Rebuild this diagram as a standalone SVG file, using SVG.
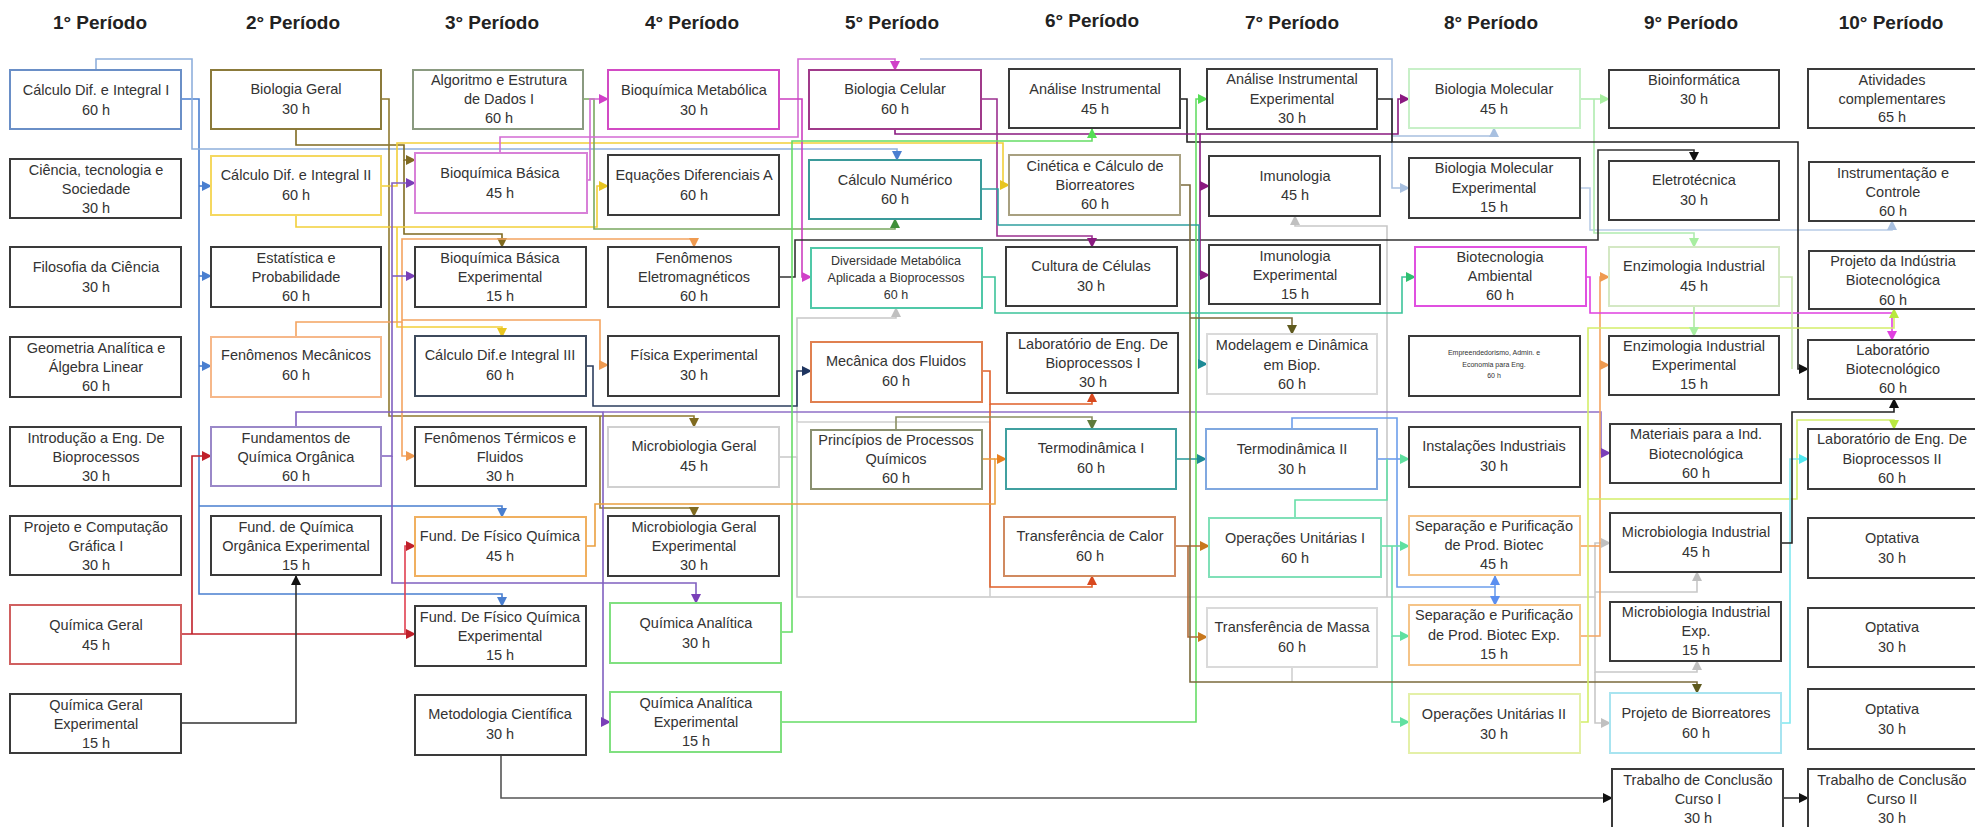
<svg xmlns="http://www.w3.org/2000/svg" width="1975" height="827" viewBox="0 0 1975 827">
<style>
.bg{fill:#fff}
.n rect{fill:#fff;stroke:#3a3a3a;stroke-width:2}
.n text{font-family:"Liberation Sans",Arial,sans-serif;font-size:14.5px;fill:#333;text-anchor:middle}
.h{font-family:"Liberation Sans",Arial,sans-serif;font-size:19px;font-weight:bold;fill:#222;text-anchor:middle}
.c path{fill:none;stroke-width:1.6}
</style>
<defs>
<marker id="a-blue" viewBox="0 0 10 10" refX="9" refY="5" markerWidth="10" markerHeight="10" markerUnits="userSpaceOnUse" orient="auto"><path d="M0,0L10,5L0,10z" fill="#4a7fd0"/></marker>
<marker id="a-olive" viewBox="0 0 10 10" refX="9" refY="5" markerWidth="10" markerHeight="10" markerUnits="userSpaceOnUse" orient="auto"><path d="M0,0L10,5L0,10z" fill="#7f6a20"/></marker>
<marker id="a-yellow" viewBox="0 0 10 10" refX="9" refY="5" markerWidth="10" markerHeight="10" markerUnits="userSpaceOnUse" orient="auto"><path d="M0,0L10,5L0,10z" fill="#e8c520"/></marker>
<marker id="a-orange" viewBox="0 0 10 10" refX="9" refY="5" markerWidth="10" markerHeight="10" markerUnits="userSpaceOnUse" orient="auto"><path d="M0,0L10,5L0,10z" fill="#ef9a50"/></marker>
<marker id="a-purple" viewBox="0 0 10 10" refX="9" refY="5" markerWidth="10" markerHeight="10" markerUnits="userSpaceOnUse" orient="auto"><path d="M0,0L10,5L0,10z" fill="#7a3fb8"/></marker>
<marker id="a-red" viewBox="0 0 10 10" refX="9" refY="5" markerWidth="10" markerHeight="10" markerUnits="userSpaceOnUse" orient="auto"><path d="M0,0L10,5L0,10z" fill="#c0202a"/></marker>
<marker id="a-black" viewBox="0 0 10 10" refX="9" refY="5" markerWidth="10" markerHeight="10" markerUnits="userSpaceOnUse" orient="auto"><path d="M0,0L10,5L0,10z" fill="#111"/></marker>
<marker id="a-green" viewBox="0 0 10 10" refX="9" refY="5" markerWidth="10" markerHeight="10" markerUnits="userSpaceOnUse" orient="auto"><path d="M0,0L10,5L0,10z" fill="#3f8f3a"/></marker>
<marker id="a-pink" viewBox="0 0 10 10" refX="9" refY="5" markerWidth="10" markerHeight="10" markerUnits="userSpaceOnUse" orient="auto"><path d="M0,0L10,5L0,10z" fill="#d040c8"/></marker>
<marker id="a-navy" viewBox="0 0 10 10" refX="9" refY="5" markerWidth="10" markerHeight="10" markerUnits="userSpaceOnUse" orient="auto"><path d="M0,0L10,5L0,10z" fill="#1f3560"/></marker>
<marker id="a-dmag" viewBox="0 0 10 10" refX="9" refY="5" markerWidth="10" markerHeight="10" markerUnits="userSpaceOnUse" orient="auto"><path d="M0,0L10,5L0,10z" fill="#8a1a80"/></marker>
<marker id="a-lgreen" viewBox="0 0 10 10" refX="9" refY="5" markerWidth="10" markerHeight="10" markerUnits="userSpaceOnUse" orient="auto"><path d="M0,0L10,5L0,10z" fill="#55dd55"/></marker>
<marker id="a-teal" viewBox="0 0 10 10" refX="9" refY="5" markerWidth="10" markerHeight="10" markerUnits="userSpaceOnUse" orient="auto"><path d="M0,0L10,5L0,10z" fill="#1e8a96"/></marker>
<marker id="a-mteal" viewBox="0 0 10 10" refX="9" refY="5" markerWidth="10" markerHeight="10" markerUnits="userSpaceOnUse" orient="auto"><path d="M0,0L10,5L0,10z" fill="#30c070"/></marker>
<marker id="a-ored" viewBox="0 0 10 10" refX="9" refY="5" markerWidth="10" markerHeight="10" markerUnits="userSpaceOnUse" orient="auto"><path d="M0,0L10,5L0,10z" fill="#d8481e"/></marker>
<marker id="a-ogold" viewBox="0 0 10 10" refX="9" refY="5" markerWidth="10" markerHeight="10" markerUnits="userSpaceOnUse" orient="auto"><path d="M0,0L10,5L0,10z" fill="#e8801e"/></marker>
<marker id="a-polive" viewBox="0 0 10 10" refX="9" refY="5" markerWidth="10" markerHeight="10" markerUnits="userSpaceOnUse" orient="auto"><path d="M0,0L10,5L0,10z" fill="#5f7a3a"/></marker>
<marker id="a-mint" viewBox="0 0 10 10" refX="9" refY="5" markerWidth="10" markerHeight="10" markerUnits="userSpaceOnUse" orient="auto"><path d="M0,0L10,5L0,10z" fill="#60e0a0"/></marker>
<marker id="a-lblue" viewBox="0 0 10 10" refX="9" refY="5" markerWidth="10" markerHeight="10" markerUnits="userSpaceOnUse" orient="auto"><path d="M0,0L10,5L0,10z" fill="#5b8ff0"/></marker>
<marker id="a-brown" viewBox="0 0 10 10" refX="9" refY="5" markerWidth="10" markerHeight="10" markerUnits="userSpaceOnUse" orient="auto"><path d="M0,0L10,5L0,10z" fill="#c8781e"/></marker>
<marker id="a-cbrown" viewBox="0 0 10 10" refX="9" refY="5" markerWidth="10" markerHeight="10" markerUnits="userSpaceOnUse" orient="auto"><path d="M0,0L10,5L0,10z" fill="#5f5a1e"/></marker>
<marker id="a-lgray" viewBox="0 0 10 10" refX="9" refY="5" markerWidth="10" markerHeight="10" markerUnits="userSpaceOnUse" orient="auto"><path d="M0,0L10,5L0,10z" fill="#c0c0c0"/></marker>
<marker id="a-lbg" viewBox="0 0 10 10" refX="9" refY="5" markerWidth="10" markerHeight="10" markerUnits="userSpaceOnUse" orient="auto"><path d="M0,0L10,5L0,10z" fill="#a8c0e0"/></marker>
<marker id="a-bmol" viewBox="0 0 10 10" refX="9" refY="5" markerWidth="10" markerHeight="10" markerUnits="userSpaceOnUse" orient="auto"><path d="M0,0L10,5L0,10z" fill="#a8eea0"/></marker>
<marker id="a-bmag" viewBox="0 0 10 10" refX="9" refY="5" markerWidth="10" markerHeight="10" markerUnits="userSpaceOnUse" orient="auto"><path d="M0,0L10,5L0,10z" fill="#e040e0"/></marker>
<marker id="a-ygreen" viewBox="0 0 10 10" refX="9" refY="5" markerWidth="10" markerHeight="10" markerUnits="userSpaceOnUse" orient="auto"><path d="M0,0L10,5L0,10z" fill="#b8e840"/></marker>
<marker id="a-cyan" viewBox="0 0 10 10" refX="9" refY="5" markerWidth="10" markerHeight="10" markerUnits="userSpaceOnUse" orient="auto"><path d="M0,0L10,5L0,10z" fill="#50e8f0"/></marker>
</defs>
<rect class="bg" x="0" y="0" width="1975" height="827"/>

<g id="headers">
<text class="h" x="100" y="29">1° Período</text>
<text class="h" x="293" y="29">2° Período</text>
<text class="h" x="492" y="29">3° Período</text>
<text class="h" x="692" y="29">4° Período</text>
<text class="h" x="892" y="29">5° Período</text>
<text class="h" x="1092" y="27">6° Período</text>
<text class="h" x="1292" y="29">7° Período</text>
<text class="h" x="1491" y="29">8° Período</text>
<text class="h" x="1691" y="29">9° Período</text>
<text class="h" x="1891" y="29">10° Período</text>
</g>

<g id="connectors" class="c">
<!-- light gray (Microbiologia Geral) -->
<path stroke="#c8c8c8" d="M779,457 H797 V597 H1595 V543 H1610" marker-end="url(#a-lgray)"/>
<path stroke="#c8c8c8" d="M1595,592 H1697 V572" marker-end="url(#a-lgray)"/>
<path stroke="#c8c8c8" d="M1595,597 V672 H1697 V661" marker-end="url(#a-lgray)"/>
<path stroke="#c8c8c8" d="M1595,672 V723 H1610" marker-end="url(#a-lgray)"/>
<path stroke="#d0d0d0" d="M797,457 V422 H990 V597"/>
<path stroke="#c8c8c8" d="M797,422 V318 H896 V308" marker-end="url(#a-lgray)"/>
<path stroke="#c8c8c8" d="M1387,597 V226 H1295 V216" marker-end="url(#a-lgray)"/>
<path stroke="#d0d0d0" d="M1292,667 V682"/>
<!-- light blue gray -->
<path stroke="#a8c0e0" d="M920,59 H1392 V188 H1409" marker-end="url(#a-lbg)"/>
<path stroke="#a8c0e0" d="M1392,136 H1494 V128" marker-end="url(#a-lbg)"/>
<path stroke="#b8cce6" d="M1580,188 H1590 V230 H1892 V221" marker-end="url(#a-lbg)"/>
<!-- Biologia Molecular -->
<path stroke="#b0ecb0" d="M1580,99 H1609" marker-end="url(#a-bmol)"/>
<path stroke="#b0ecb0" d="M1594,99 V233 H1694 V247" marker-end="url(#a-bmol)"/>
<!-- Cálculo I -->
<path stroke="#4a7fd0" d="M181,99 H199 V594 H502 V606" marker-end="url(#a-blue)"/>
<path stroke="#4a7fd0" d="M199,186 H211" marker-end="url(#a-blue)"/>
<path stroke="#4a7fd0" d="M199,276 H211" marker-end="url(#a-blue)"/>
<path stroke="#4a7fd0" d="M199,366 H211" marker-end="url(#a-blue)"/>
<path stroke="#4a7fd0" d="M199,506 H502 V517" marker-end="url(#a-blue)"/>
<path stroke="#8fb0dc" d="M96,70 V59 H192 V149 H897 V160" marker-end="url(#a-blue)"/>
<!-- Biologia Geral -->
<path stroke="#7f6a20" d="M296,129 V145 H404 V160 H415" marker-end="url(#a-olive)"/>
<path stroke="#7f6a20" d="M404,160 V234 H502 V247" marker-end="url(#a-olive)"/>
<path stroke="#8f7a30" d="M381,99 H389 V416 H694 V427" marker-end="url(#a-olive)"/>
<path stroke="#8f7a30" d="M600,416 V508 H694 V516" marker-end="url(#a-olive)"/>
<!-- Cálculo II -->
<path stroke="#f2cf3a" d="M296,215 V227 H597 V186 H608" marker-end="url(#a-yellow)"/>
<path stroke="#f2cf3a" d="M381,186 H397 V143 H1003 V185 H1009" marker-end="url(#a-yellow)"/>
<path stroke="#f2cf3a" d="M397,227 V327 H502 V337" marker-end="url(#a-yellow)"/>
<!-- Fenômenos Mecânicos -->
<path stroke="#f4a460" d="M296,337 V322 H402 V239 H694 V247" marker-end="url(#a-orange)"/>
<path stroke="#f4a460" d="M402,320 H600 V365 H608" marker-end="url(#a-orange)"/>
<path stroke="#f4a460" d="M402,322 V456 H415" marker-end="url(#a-orange)"/>
<!-- Fundamentos de Química Orgânica -->
<path stroke="#8060c0" d="M381,456 H392 V183 H415" marker-end="url(#a-purple)"/>
<path stroke="#8060c0" d="M392,276 H415" marker-end="url(#a-purple)"/>
<path stroke="#8060c0" d="M392,456 V583 H696 V603" marker-end="url(#a-purple)"/>
<path stroke="#8060c0" d="M296,427 V412 H603 V722 H610" marker-end="url(#a-purple)"/>
<path stroke="#9070c8" d="M603,412 H1601 V453 H1610" marker-end="url(#a-purple)"/>
<!-- Química Geral -->
<path stroke="#c0202a" stroke-width="2" d="M181,634 H415" marker-end="url(#a-red)"/>
<path stroke="#c0202a" d="M192,634 V456 H211" marker-end="url(#a-red)"/>
<path stroke="#e04050" d="M405,634 V546 H415" marker-end="url(#a-red)"/>
<!-- Química Geral Experimental, Metodologia, TCC -->
<path stroke="#333" d="M181,723 H296 V576" marker-end="url(#a-black)"/>
<path stroke="#555" stroke-width="2" d="M501,755 V798 H1612" marker-end="url(#a-black)"/>
<path stroke="#333" stroke-width="2" d="M1783,798 H1808" marker-end="url(#a-black)"/>
<!-- Algoritmo -->
<path stroke="#7aa860" d="M583,99 H594 V229 H895 V219" marker-end="url(#a-green)"/>
<!-- Bioquímica Básica -->
<path stroke="#d36bd3" d="M500,153 V137 H798 V59 H895 V70" marker-end="url(#a-pink)"/>
<path stroke="#d36bd3" d="M587,180 H590 V99 H608" marker-end="url(#a-pink)"/>
<!-- Bioquímica Metabólica -->
<path stroke="#cc3fc0" d="M779,99 H802 V277 H811" marker-end="url(#a-pink)"/>
<!-- Cálculo III -->
<path stroke="#2c3e5e" d="M586,366 H593 V406 H797 V371 H811" marker-end="url(#a-navy)"/>
<!-- Fenômenos Eletromagnéticos / Análise -->
<path stroke="#333" d="M779,277 H795 V240 H1598 V150 H1694 V161" marker-end="url(#a-black)"/>
<path stroke="#8a1a80" d="M1200,134 H1398 V99 H1409" marker-end="url(#a-dmag)"/>
<path stroke="#222" stroke-width="2" d="M1377,99 H1392 V142 H1798 V369 H1808" marker-end="url(#a-black)"/>
<path stroke="#222" d="M1180,99 H1187 V142 H1392"/>
<!-- Biologia Celular -->
<path stroke="#8a1a80" d="M895,129 V134 H1200 V275 H1209" marker-end="url(#a-dmag)"/>
<path stroke="#8a1a80" d="M1200,186 H1209" marker-end="url(#a-dmag)"/>
<path stroke="#9c3090" d="M981,99 H997 V236 H1092 V247" marker-end="url(#a-dmag)"/>
<!-- Química Analítica -->
<path stroke="#66dd66" d="M781,632 H792 V141 H1092 V129" marker-end="url(#a-lgreen)"/>
<path stroke="#66dd66" d="M781,722 H1196 V99 H1207" marker-end="url(#a-lgreen)"/>
<!-- Cálculo Numérico -->
<path stroke="#31a0a0" d="M981,189 H998 V225 H1199 V364 H1207" marker-end="url(#a-teal)"/>
<!-- Diversidade Metabólica -->
<path stroke="#3cc49a" d="M982,277 H995 V313 H1402 V277 H1415" marker-end="url(#a-mteal)"/>
<!-- Mecânica dos Fluidos -->
<path stroke="#e0602a" d="M982,371 H990 V404 H1092 V393" marker-end="url(#a-ored)"/>
<path stroke="#e0602a" d="M990,404 V587 H1092 V576" marker-end="url(#a-ored)"/>
<!-- Fund. Físico Química / Princípios -->
<path stroke="#eaa040" d="M586,546 H595 V504 H995 V459 H1006" marker-end="url(#a-ogold)"/>
<path stroke="#eaa040" d="M982,459 H995"/>
<path stroke="#8a8f62" d="M896,430 V417 H1092 V429" marker-end="url(#a-polive)"/>
<!-- Termodinâmica -->
<path stroke="#31a0a0" d="M1176,459 H1206" marker-end="url(#a-teal)"/>
<path stroke="#6d9eeb" d="M1292,429 V418 H1397 V587 H1495 V576" marker-end="url(#a-lblue)"/>
<path stroke="#6d9eeb" d="M1495,587 V605" marker-end="url(#a-lblue)"/>
<path stroke="#6d9eeb" d="M1377,459 H1409" marker-end="url(#a-mint)"/>
<!-- Operações Unitárias I -->
<path stroke="#66dfa8" d="M1295,518 V500 H1387 V459"/>
<path stroke="#66dfa8" d="M1381,546 H1409" marker-end="url(#a-mint)"/>
<path stroke="#66dfa8" d="M1392,546 V636 H1409" marker-end="url(#a-mint)"/>
<path stroke="#66dfa8" d="M1392,636 V722 H1409" marker-end="url(#a-mint)"/>
<!-- Transferência de Calor -->
<path stroke="#b06a38" d="M1175,546 H1209" marker-end="url(#a-brown)"/>
<path stroke="#b06a38" d="M1188,546 V637 H1207" marker-end="url(#a-brown)"/>
<!-- Cinética -->
<path stroke="#7b6b3c" d="M1180,185 H1190 V682 H1697 V693" marker-end="url(#a-cbrown)"/>
<path stroke="#7b6b3c" d="M1190,318 H1292 V334" marker-end="url(#a-cbrown)"/>
<!-- col 8-10 -->
<path stroke="#f4a460" d="M1580,636 H1600 V277 H1609" marker-end="url(#a-orange)"/>
<path stroke="#f4a460" d="M1600,365 H1609" marker-end="url(#a-orange)"/>
<path stroke="#f4a460" d="M1580,546 H1600"/>
<path stroke="#e040e0" stroke-width="2" d="M1586,277 H1590 V313 H1892 V340" marker-end="url(#a-bmag)"/>
<path stroke="#d4ee6a" d="M1580,722 H1588 V328 H1894 V309" marker-end="url(#a-ygreen)"/>
<path stroke="#d4ee6a" d="M1588,499 H1797 V420 H1894 V429" marker-end="url(#a-ygreen)"/>
<path stroke="#c8e4b0" d="M1779,277 H1792 V369"/>
<path stroke="#b0e8a0" d="M1694,306 V336" marker-end="url(#a-bmol)"/>
<path stroke="#80e8f0" d="M1781,723 H1790 V459 H1808" marker-end="url(#a-cyan)"/>
<path stroke="#222" d="M1781,543 H1792 V412 H1894 V399" marker-end="url(#a-black)"/>
</g>

<g id="c1" class="n">
<g id="n-calc1"><rect x="10" y="70" width="171" height="59" style="stroke:#6a8fc7"/><text x="96" y="95">Cálculo Dif. e Integral I</text><text x="96" y="115">60 h</text></g>
<g id="n-cts"><rect x="10" y="159" width="171" height="59"/><text x="96" y="175">Ciência, tecnologia e</text><text x="96" y="194">Sociedade</text><text x="96" y="213">30 h</text></g>
<g id="n-filo"><rect x="10" y="247" width="171" height="60"/><text x="96" y="272">Filosofia da Ciência</text><text x="96" y="292">30 h</text></g>
<g id="n-geo"><rect x="10" y="337" width="171" height="60"/><text x="96" y="353">Geometria Analítica e</text><text x="96" y="372">Álgebra Linear</text><text x="96" y="391">60 h</text></g>
<g id="n-intro"><rect x="10" y="427" width="171" height="59"/><text x="96" y="443">Introdução a Eng. De</text><text x="96" y="462">Bioprocessos</text><text x="96" y="481">30 h</text></g>
<g id="n-proj"><rect x="10" y="516" width="171" height="59"/><text x="96" y="532">Projeto e Computação</text><text x="96" y="551">Gráfica I</text><text x="96" y="570">30 h</text></g>
<g id="n-qg"><rect x="10" y="605" width="171" height="59" style="stroke:#d06060"/><text x="96" y="630">Química Geral</text><text x="96" y="650">45 h</text></g>
<g id="n-qgexp"><rect x="10" y="694" width="171" height="59"/><text x="96" y="710">Química Geral</text><text x="96" y="729">Experimental</text><text x="96" y="748">15 h</text></g>
</g>

<g id="c2" class="n">
<g id="n-biogeral"><rect x="211" y="70" width="170" height="59" style="stroke:#8b7a3a"/><text x="296" y="94">Biologia Geral</text><text x="296" y="114">30 h</text></g>
<g id="n-calc2"><rect x="211" y="156" width="170" height="59" style="stroke:#f5d860"/><text x="296" y="180">Cálculo Dif. e Integral II</text><text x="296" y="200">60 h</text></g>
<g id="n-estat"><rect x="211" y="247" width="170" height="60"/><text x="296" y="263">Estatística e</text><text x="296" y="282">Probabilidade</text><text x="296" y="301">60 h</text></g>
<g id="n-fenmec"><rect x="211" y="337" width="170" height="60" style="stroke:#f6b88a"/><text x="296" y="360">Fenômenos Mecânicos</text><text x="296" y="380">60 h</text></g>
<g id="n-fqo"><rect x="211" y="427" width="170" height="59" style="stroke:#9a88c8"/><text x="296" y="443">Fundamentos de</text><text x="296" y="462">Química Orgânica</text><text x="296" y="481">60 h</text></g>
<g id="n-fqoexp"><rect x="211" y="516" width="170" height="59"/><text x="296" y="532">Fund. de Química</text><text x="296" y="551">Orgânica Experimental</text><text x="296" y="570">15 h</text></g>
</g>

<g id="c3" class="n">
<g id="n-algo"><rect x="413" y="70" width="170" height="59" style="stroke:#8a9a80"/><text x="499" y="85">Algoritmo e Estrutura</text><text x="499" y="104">de Dados I</text><text x="499" y="123">60 h</text></g>
<g id="n-bioqb"><rect x="415" y="153" width="172" height="60" style="stroke:#d880d8"/><text x="500" y="178">Bioquímica Básica</text><text x="500" y="198">45 h</text></g>
<g id="n-bioqbexp"><rect x="415" y="247" width="171" height="60"/><text x="500" y="263">Bioquímica Básica</text><text x="500" y="282">Experimental</text><text x="500" y="301">15 h</text></g>
<g id="n-calc3"><rect x="415" y="336" width="171" height="60" style="stroke:#3d4a5c"/><text x="500" y="360">Cálculo Dif.e Integral III</text><text x="500" y="380">60 h</text></g>
<g id="n-fenterm"><rect x="415" y="427" width="171" height="59"/><text x="500" y="443">Fenômenos Térmicos e</text><text x="500" y="462">Fluidos</text><text x="500" y="481">30 h</text></g>
<g id="n-ffq"><rect x="415" y="517" width="171" height="59" style="stroke:#f0b060"/><text x="500" y="541">Fund. De Físico Química</text><text x="500" y="561">45 h</text></g>
<g id="n-ffqexp"><rect x="415" y="606" width="171" height="60"/><text x="500" y="622">Fund. De Físico Química</text><text x="500" y="641">Experimental</text><text x="500" y="660">15 h</text></g>
<g id="n-metod"><rect x="415" y="695" width="171" height="60"/><text x="500" y="719">Metodologia Científica</text><text x="500" y="739">30 h</text></g>
</g>

<g id="c4" class="n">
<g id="n-bioqm"><rect x="608" y="70" width="171" height="59" style="stroke:#d24bc4"/><text x="694" y="95">Bioquímica Metabólica</text><text x="694" y="115">30 h</text></g>
<g id="n-eqdif"><rect x="608" y="155" width="171" height="60"/><text x="694" y="180">Equações Diferenciais A</text><text x="694" y="200">60 h</text></g>
<g id="n-feneletro"><rect x="608" y="247" width="171" height="60"/><text x="694" y="263">Fenômenos</text><text x="694" y="282">Eletromagnéticos</text><text x="694" y="301">60 h</text></g>
<g id="n-fisexp"><rect x="608" y="336" width="171" height="60"/><text x="694" y="360">Física Experimental</text><text x="694" y="380">30 h</text></g>
<g id="n-microg"><rect x="608" y="427" width="171" height="60" style="stroke:#d0d0d0"/><text x="694" y="451">Microbiologia Geral</text><text x="694" y="471">45 h</text></g>
<g id="n-microgexp"><rect x="608" y="516" width="171" height="60"/><text x="694" y="532">Microbiologia Geral</text><text x="694" y="551">Experimental</text><text x="694" y="570">30 h</text></g>
<g id="n-qa"><rect x="610" y="603" width="171" height="60" style="stroke:#80e080"/><text x="696" y="628">Química Analítica</text><text x="696" y="648">30 h</text></g>
<g id="n-qaexp"><rect x="610" y="692" width="171" height="60" style="stroke:#80e080"/><text x="696" y="708">Química Analítica</text><text x="696" y="727">Experimental</text><text x="696" y="746">15 h</text></g>
</g>

<g id="c5" class="n">
<g id="n-biocel"><rect x="809" y="70" width="172" height="59" style="stroke:#a03a8a"/><text x="895" y="94">Biologia Celular</text><text x="895" y="114">60 h</text></g>
<g id="n-calcnum"><rect x="809" y="160" width="172" height="59" style="stroke:#3a9a9a"/><text x="895" y="185">Cálculo Numérico</text><text x="895" y="204">60 h</text></g>
<g id="n-divmet"><rect x="811" y="248" width="171" height="60" style="stroke:#50c8a8"/><text x="896" y="265" style="font-size:12.5px">Diversidade Metabólica</text><text x="896" y="282" style="font-size:12.5px">Aplicada a Bioprocessos</text><text x="896" y="299" style="font-size:12.5px">60 h</text></g>
<g id="n-mecflu"><rect x="811" y="342" width="171" height="60" style="stroke:#e08050"/><text x="896" y="366">Mecânica dos Fluidos</text><text x="896" y="386">60 h</text></g>
<g id="n-princ"><rect x="811" y="430" width="171" height="59" style="stroke:#8a9070"/><text x="896" y="445">Princípios de Processos</text><text x="896" y="464">Químicos</text><text x="896" y="483">60 h</text></g>
</g>

<g id="c6" class="n">
<g id="n-analise"><rect x="1009" y="69" width="171" height="59"/><text x="1095" y="94">Análise Instrumental</text><text x="1095" y="114">45 h</text></g>
<g id="n-cinetica"><rect x="1009" y="155" width="171" height="60" style="stroke:#a8a080"/><text x="1095" y="171">Cinética e Cálculo de</text><text x="1095" y="190">Biorreatores</text><text x="1095" y="209">60 h</text></g>
<g id="n-cultura"><rect x="1006" y="247" width="171" height="59"/><text x="1091" y="271">Cultura de Células</text><text x="1091" y="291">30 h</text></g>
<g id="n-labeng1"><rect x="1007" y="333" width="171" height="60"/><text x="1093" y="349">Laboratório de Eng. De</text><text x="1093" y="368">Bioprocessos I</text><text x="1093" y="387">30 h</text></g>
<g id="n-termo1"><rect x="1006" y="429" width="170" height="60" style="stroke:#40a0a0"/><text x="1091" y="453">Termodinâmica I</text><text x="1091" y="473">60 h</text></g>
<g id="n-transcal"><rect x="1004" y="517" width="171" height="59" style="stroke:#d08a60"/><text x="1090" y="541">Transferência de Calor</text><text x="1090" y="561">60 h</text></g>
</g>

<g id="c7" class="n">
<g id="n-analiseexp"><rect x="1207" y="69" width="170" height="60"/><text x="1292" y="84">Análise Instrumental</text><text x="1292" y="104">Experimental</text><text x="1292" y="123">30 h</text></g>
<g id="n-imuno"><rect x="1209" y="156" width="171" height="60"/><text x="1295" y="181">Imunologia</text><text x="1295" y="200">45 h</text></g>
<g id="n-imunoexp"><rect x="1209" y="245" width="171" height="59"/><text x="1295" y="261">Imunologia</text><text x="1295" y="280">Experimental</text><text x="1295" y="299">15 h</text></g>
<g id="n-modelagem"><rect x="1207" y="334" width="170" height="60" style="stroke:#dadada"/><text x="1292" y="350">Modelagem e Dinâmica</text><text x="1292" y="370">em Biop.</text><text x="1292" y="389">60 h</text></g>
<g id="n-termo2"><rect x="1206" y="429" width="171" height="60" style="stroke:#80a8e0"/><text x="1292" y="454">Termodinâmica II</text><text x="1292" y="474">30 h</text></g>
<g id="n-opu1"><rect x="1209" y="518" width="172" height="59" style="stroke:#80e0b8"/><text x="1295" y="543">Operações Unitárias I</text><text x="1295" y="563">60 h</text></g>
<g id="n-transmassa"><rect x="1207" y="608" width="170" height="59" style="stroke:#dadada"/><text x="1292" y="632">Transferência de Massa</text><text x="1292" y="652">60 h</text></g>
</g>

<g id="c8" class="n">
<g id="n-biomol"><rect x="1409" y="69" width="171" height="59" style="stroke:#c8f0c8"/><text x="1494" y="94">Biologia Molecular</text><text x="1494" y="114">45 h</text></g>
<g id="n-biomolexp"><rect x="1409" y="158" width="171" height="60"/><text x="1494" y="173">Biologia Molecular</text><text x="1494" y="193">Experimental</text><text x="1494" y="212">15 h</text></g>
<g id="n-biotecamb"><rect x="1415" y="247" width="171" height="59" style="stroke:#e050e0"/><text x="1500" y="262">Biotecnologia</text><text x="1500" y="281">Ambiental</text><text x="1500" y="300">60 h</text></g>
<g id="n-empreend"><rect x="1409" y="336" width="171" height="60"/><text x="1494" y="355" style="font-size:7px">Empreendedorismo, Admin. e</text><text x="1494" y="367" style="font-size:7px">Economia para Eng.</text><text x="1494" y="378" style="font-size:7px">60 h</text></g>
<g id="n-instal"><rect x="1409" y="427" width="171" height="60"/><text x="1494" y="451">Instalações Industriais</text><text x="1494" y="471">30 h</text></g>
<g id="n-seppur"><rect x="1409" y="516" width="171" height="59" style="stroke:#f5c488"/><text x="1494" y="531">Separação e Purificação</text><text x="1494" y="550">de Prod. Biotec</text><text x="1494" y="569">45 h</text></g>
<g id="n-seppurexp"><rect x="1409" y="605" width="171" height="60" style="stroke:#f5c488"/><text x="1494" y="620">Separação e Purificação</text><text x="1494" y="640">de Prod. Biotec Exp.</text><text x="1494" y="659">15 h</text></g>
<g id="n-opu2"><rect x="1409" y="694" width="171" height="59" style="stroke:#e4f0a8"/><text x="1494" y="719">Operações Unitárias II</text><text x="1494" y="739">30 h</text></g>
</g>

<g id="c9" class="n">
<g id="n-bioinfo"><rect x="1609" y="70" width="170" height="58"/><text x="1694" y="85">Bioinformática</text><text x="1694" y="104">30 h</text></g>
<g id="n-eletro"><rect x="1609" y="161" width="170" height="59"/><text x="1694" y="185">Eletrotécnica</text><text x="1694" y="205">30 h</text></g>
<g id="n-enzind"><rect x="1609" y="247" width="170" height="59" style="stroke:#d4e8c4"/><text x="1694" y="271">Enzimologia Industrial</text><text x="1694" y="291">45 h</text></g>
<g id="n-enzindexp"><rect x="1609" y="336" width="170" height="59"/><text x="1694" y="351">Enzimologia Industrial</text><text x="1694" y="370">Experimental</text><text x="1694" y="389">15 h</text></g>
<g id="n-materiais"><rect x="1610" y="424" width="171" height="59"/><text x="1696" y="439">Materiais para a Ind.</text><text x="1696" y="459">Biotecnológica</text><text x="1696" y="478">60 h</text></g>
<g id="n-microind"><rect x="1610" y="513" width="171" height="59"/><text x="1696" y="537">Microbiologia Industrial</text><text x="1696" y="557">45 h</text></g>
<g id="n-microindexp"><rect x="1610" y="602" width="171" height="59"/><text x="1696" y="617">Microbiologia Industrial</text><text x="1696" y="636">Exp.</text><text x="1696" y="655">15 h</text></g>
<g id="n-projbior"><rect x="1610" y="693" width="171" height="60" style="stroke:#a8e4f0"/><text x="1696" y="718">Projeto de Biorreatores</text><text x="1696" y="738">60 h</text></g>
<g id="n-tcc1"><rect x="1612" y="769" width="171" height="70"/><text x="1698" y="785">Trabalho de Conclusão</text><text x="1698" y="804">Curso I</text><text x="1698" y="823">30 h</text></g>
</g>

<g id="c10" class="n">
<g id="n-ativ"><rect x="1808" y="69" width="170" height="59"/><text x="1892" y="85">Atividades</text><text x="1892" y="104">complementares</text><text x="1892" y="122">65 h</text></g>
<g id="n-instrum"><rect x="1809" y="162" width="170" height="59"/><text x="1893" y="178">Instrumentação e</text><text x="1893" y="197">Controle</text><text x="1893" y="216">60 h</text></g>
<g id="n-projind"><rect x="1809" y="251" width="170" height="58"/><text x="1893" y="266">Projeto da Indústria</text><text x="1893" y="285">Biotecnológica</text><text x="1893" y="305">60 h</text></g>
<g id="n-labbiotec"><rect x="1808" y="340" width="170" height="59"/><text x="1893" y="355">Laboratório</text><text x="1893" y="374">Biotecnológico</text><text x="1893" y="393">60 h</text></g>
<g id="n-labeng2"><rect x="1808" y="429" width="170" height="60"/><text x="1892" y="444">Laboratório de Eng. De</text><text x="1892" y="464">Bioprocessos II</text><text x="1892" y="483">60 h</text></g>
<g id="n-opt1"><rect x="1808" y="518" width="170" height="60"/><text x="1892" y="543">Optativa</text><text x="1892" y="563">30 h</text></g>
<g id="n-opt2"><rect x="1808" y="608" width="170" height="59"/><text x="1892" y="632">Optativa</text><text x="1892" y="652">30 h</text></g>
<g id="n-opt3"><rect x="1808" y="689" width="170" height="60"/><text x="1892" y="714">Optativa</text><text x="1892" y="734">30 h</text></g>
<g id="n-tcc2"><rect x="1808" y="769" width="170" height="70"/><text x="1892" y="785">Trabalho de Conclusão</text><text x="1892" y="804">Curso II</text><text x="1892" y="823">30 h</text></g>
</g>
</svg>
